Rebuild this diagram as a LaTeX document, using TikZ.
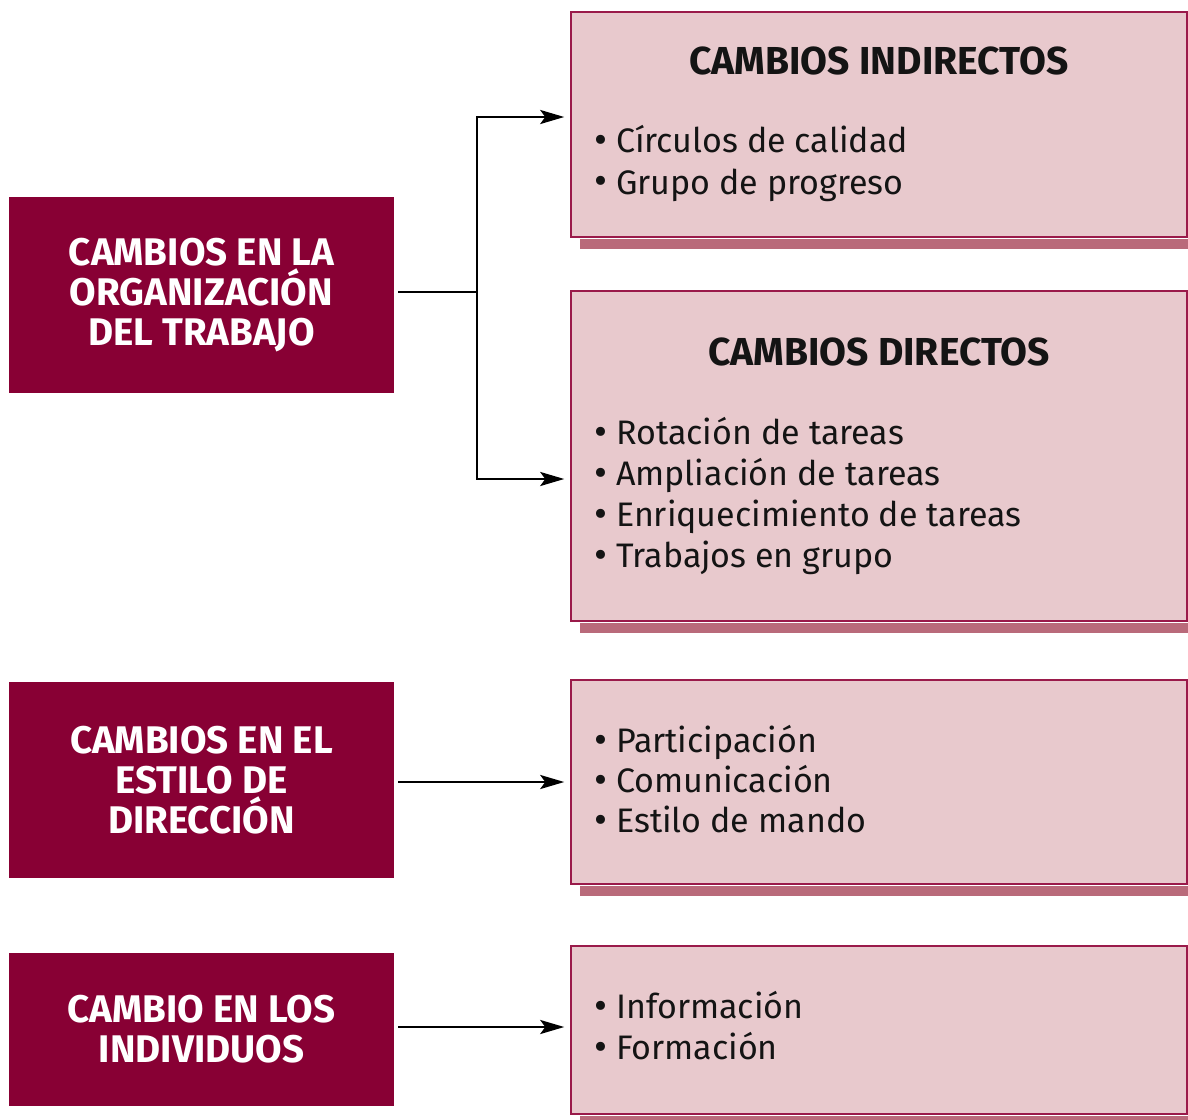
\documentclass[tikz,border=0pt]{standalone}
\usepackage{fontspec}
\setmainfont{Fira Sans}
\usepackage{xcolor}
\usetikzlibrary{arrows.meta, positioning, calc}

\definecolor{wine}{HTML}{880034}
\definecolor{rose}{HTML}{E8C9CD}
\definecolor{roseline}{HTML}{9A1A4A}
\definecolor{roseshadow}{HTML}{B96A7A}

\newcommand\sombra[1]{\fill[roseshadow] ($(#1.south west)+(10,0.75)$) rectangle ($(#1.south east)+(1,11)$);}
\newcommand\punto{{\fontsize{40}{40}\selectfont\raisebox{-1pt}{\textbullet}}\ }

\begin{document}
\begin{tikzpicture}[
    x=1pt, y=-1pt,
    causa/.style={fill=wine, text=white, font=\bfseries\fontsize{38.5}{40}\selectfont, align=center, minimum width=385pt, inner sep=0pt},
    efecto/.style={fill=rose, draw=roseline, line width=1.5pt, minimum width=616pt, inner sep=0pt},
    titulo/.style={font=\bfseries\fontsize{39}{40}\selectfont, text=black!92, inner sep=0pt},
    lista/.style={font=\fontsize{34}{41}\selectfont, text=black!92, align=left, inner sep=0pt, anchor=west},
    arrow/.style={line width=2.6pt, -{Stealth[length=24pt,width=14pt,inset=5pt]}, shorten >=6pt, shorten <=4pt},
    line/.style={line width=2.6pt, shorten <=4pt}
]
\useasboundingbox (0,0) rectangle (1188,1119);

% Left boxes
\node (org) [causa, minimum height=196pt] at (201.5,295) {CAMBIOS EN LA\\ORGANIZACIÓN\\DEL TRABAJO};
\node (estilo) [causa, minimum height=196pt] at (201.5,780) {CAMBIOS EN EL\\ESTILO DE\\DIRECCIÓN};
\node (indiv) [causa, minimum height=153pt] at (201.5,1029.5) {CAMBIO EN LOS\\INDIVIDUOS};

% Right boxes
\node (ind) [efecto, minimum height=225pt] at (879,124.5) {};
\node (dir) [efecto, minimum height=330pt] at (879,456) {};
\node (part) [efecto, minimum height=204pt] at (879,782) {};
\node (info) [efecto, minimum height=168pt] at (879,1030) {};
\sombra{ind}
\sombra{dir}
\sombra{part}
\sombra{info}

% Texts
\node (indtit) [titulo] at (879,61) {CAMBIOS INDIRECTOS};
\node (indlst) [lista] at (594,163.5) {\punto Círculos de calidad\\\punto Grupo de progreso};
\node (dirtit) [titulo] at (879,352) {CAMBIOS DIRECTOS};
\node (dirlst) [lista] at (594,495.5) {\punto Rotación de tareas\\\punto Ampliación de tareas\\\punto Enriquecimiento de tareas\\\punto Trabajos en grupo};
\node (partlst) [lista, font=\fontsize{34}{40}\selectfont] at (594,779) {\punto Participación\\\punto Comunicación\\\punto Estilo de mando};
\node (infolst) [lista] at (594,1026) {\punto Información\\\punto Formación};

% Links
\coordinate (fork) at (477,292);
\draw[line] (org.east |- fork) -- (fork);
\draw[arrow, shorten <=0pt] (fork) |- ($(ind.west)+(0,-7.5)$);
\draw[arrow, shorten <=0pt] (fork) |- ($(dir.west)+(0,23)$);
\draw[arrow] (estilo.east |- part.west) -- (part.west);
\draw[arrow] ($(indiv.east)+(0,-2.5)$) -- ($(indiv.east -| info.west)+(0,-2.5)$);

\end{tikzpicture}
\end{document}
